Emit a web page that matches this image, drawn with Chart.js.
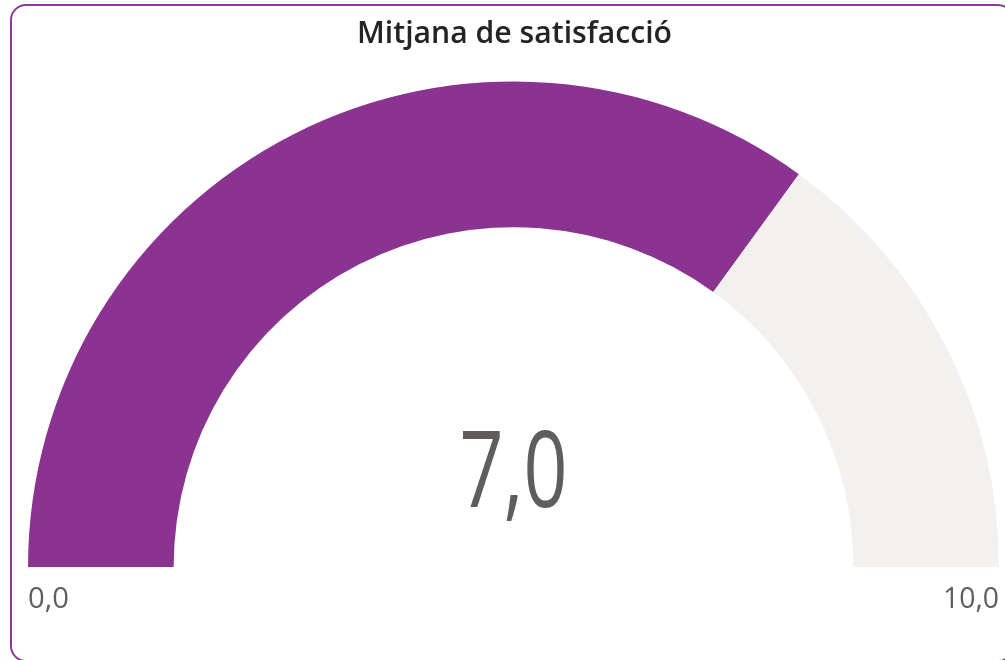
<!DOCTYPE html>
<html>
<head>
<meta charset="utf-8">
<script src="https://cdn.jsdelivr.net/npm/chart.js@4.4.1/dist/chart.umd.min.js"></script>
<style>
  html, body { margin: 0; padding: 0; background: #ffffff; overflow: hidden; }
  #wrap { position: relative; width: 1005px; height: 660px; overflow: hidden; }
  #card { position: absolute; left: 10px; top: 4px; width: 1000px; height: 654px;
          border: 2px solid #8C3A95; border-radius: 16px; background: #fff; }
  #c { position: absolute; left: 0; top: 0; }
</style>
</head>
<body>
<div id="wrap">
  <div id="card"></div>
  <canvas id="c" width="1005" height="660"></canvas>
</div>
<script>
const title = "Mitjana de satisfacció";
const categories = ["Mitjana", "Resta"];
const gaugeValue = 7.0;
const gaugeMin = 0.0;
const gaugeMax = 10.0;
const seriesValues = [gaugeValue - gaugeMin, gaugeMax - gaugeValue];
const tickLabels = ["0,0", "10,0"];
const valueLabel = "7,0";

function drawFitText(ctx, text, font, color, x, baseline, targetWidth, align) {
  ctx.save();
  ctx.font = font;
  ctx.fillStyle = color;
  ctx.textBaseline = "alphabetic";
  ctx.textAlign = "left";
  const w = ctx.measureText(text).width;
  const sx = targetWidth / w;
  let left = x;
  if (align === "center") left = x - targetWidth / 2;
  else if (align === "right") left = x - targetWidth;
  ctx.translate(left, baseline);
  ctx.scale(sx, 1);
  ctx.fillText(text, 0, 0);
  ctx.restore();
}

const textPlugin = {
  id: "gaugeText",
  afterDraw(chart) {
    const ctx = chart.ctx;
    const meta = chart.getDatasetMeta(0);
    const arc = meta.data[0];
    const cx = arc.x, cy = arc.y, R = arc.outerRadius;
    // title
    drawFitText(ctx, title, "600 31px 'Open Sans'", "#252423", 514.5, 43, 315, "center");
    // centre value
    drawFitText(ctx, valueLabel, "400 106px 'Open Sans'", "#605E5C", cx, cy - 60, 108, "center");
    // min / max labels
    drawFitText(ctx, tickLabels[0], "400 30px 'Open Sans'", "#605E5C", cx - R, cy + 41, 41, "left");
    drawFitText(ctx, tickLabels[1], "400 30px 'Open Sans'", "#605E5C", cx + R, cy + 41, 56, "right");
  }
};

function build() {
  new Chart(document.getElementById("c"), {
    type: "doughnut",
    data: {
      labels: categories,
      datasets: [{
        data: seriesValues,
        backgroundColor: ["#8A3391", "#F2F1F0"],
        hoverBackgroundColor: ["#8A3391", "#F2F1F0"],
        borderWidth: 0,
        hoverOffset: 0
      }]
    },
    options: {
      responsive: false,
      animation: false,
      rotation: -90,
      circumference: 180,
      cutout: "70%",
      events: [],
      layout: { padding: { left: 28, right: 6, top: 81.5, bottom: 93 } },
      plugins: {
        legend: { display: false },
        tooltip: { enabled: false },
        title: { display: false }
      }
    },
    plugins: [textPlugin]
  });
}

if (document.fonts && document.fonts.load) {
  Promise.all([
    document.fonts.load("600 31px 'Open Sans'"),
    document.fonts.load("400 106px 'Open Sans'"),
    document.fonts.load("400 30px 'Open Sans'")
  ]).then(build, build);
} else {
  build();
}
</script>
</body>
</html>
